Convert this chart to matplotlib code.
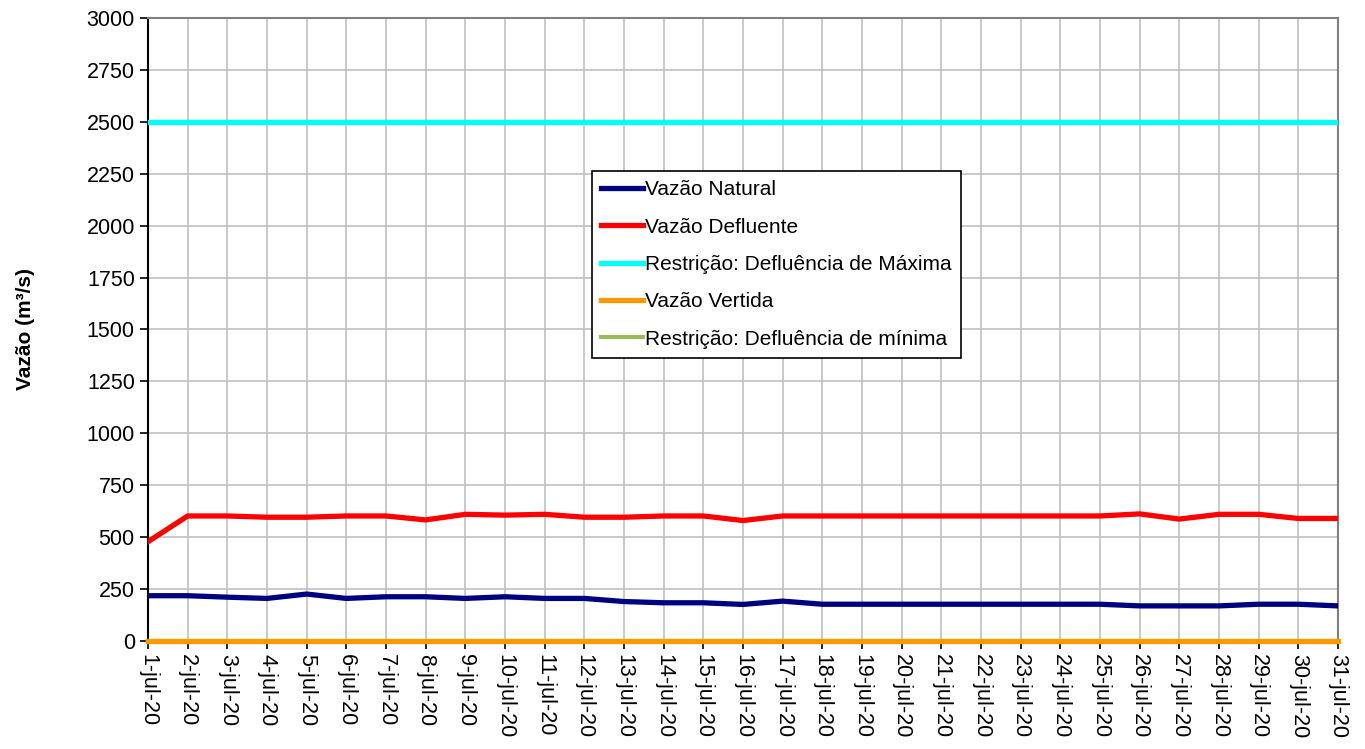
import numpy as np
import matplotlib
matplotlib.use("Agg")
import matplotlib.pyplot as plt

plt.rcParams['font.family'] = ['Liberation Sans', 'DejaVu Sans']

# Dados
dias = [f"{d}-jul-20" for d in range(1, 32)]

vazao_natural = [218, 218, 211, 205, 226, 205, 213, 213, 205, 213,
                 205, 205, 190, 184, 184, 176, 192, 177, 177, 177,
                 177, 177, 177, 177, 177, 169, 169, 169, 177, 177, 169]

vazao_defluente = [478, 602, 602, 596, 596, 602, 602, 583, 610, 606,
                   610, 596, 596, 602, 602, 580, 602, 602, 602, 602,
                   602, 602, 602, 602, 602, 612, 587, 610, 610, 590, 590]

defluencia_maxima = [2500] * 31
vazao_vertida = [0] * 31
defluencia_minima = [0] * 31

x = np.arange(len(dias))

fig = plt.figure(figsize=(13.65, 7.49), dpi=100)
ax = fig.add_axes([0.1084, 0.1442, 0.8718, 0.8318])

l1, = ax.plot(x, vazao_natural, color='#000080', lw=3.8, label='Vazão Natural', zorder=5)
l2, = ax.plot(x, vazao_defluente, color='#ff0000', lw=3.8, label='Vazão Defluente', zorder=5)
l3, = ax.plot(x, defluencia_maxima, color='#00ffff', lw=3.8, label='Restrição: Defluência de Máxima', zorder=5)
l5, = ax.plot(x, defluencia_minima, color='#9bbb59', lw=3.0, label='Restrição: Defluência de mínima',
              zorder=4, clip_on=False)
l4, = ax.plot(x, vazao_vertida, color='#ff9900', lw=3.8, label='Vazão Vertida', zorder=6, clip_on=False)

ax.set_xlim(0, len(dias) - 1)
ax.set_ylim(0, 3000)
ax.set_yticks(np.arange(0, 3001, 250))
ax.set_xticks(x)
ax.set_xticklabels(dias, rotation=270, fontsize=15.5)
ax.tick_params(axis='y', labelsize=15.5)
ax.tick_params(direction='out', length=6, width=1.2, color='black')

ax.grid(True, color='#c0c0c0', lw=1.2)
ax.set_axisbelow(True)

for s in ['top', 'right']:
    ax.spines[s].set_color('#808080')
    ax.spines[s].set_linewidth(1.5)
for s in ['left', 'bottom']:
    ax.spines[s].set_color('black')
    ax.spines[s].set_linewidth(1.5)

ax.set_ylabel('Vazão (m³/s)', fontsize=15, fontweight='bold', labelpad=37)

leg = fig.legend(handles=[l1, l2, l3, l4, l5], loc='upper left',
                 bbox_to_anchor=(592 / 1365, 1 - 171 / 749),
                 fontsize=15, frameon=True, fancybox=False,
                 edgecolor='black', framealpha=1, handlelength=2.0,
                 handletextpad=0.1, borderpad=0.45, labelspacing=0.88,
                 borderaxespad=0)
leg.get_frame().set_linewidth(1.2)

fig.savefig('out.png', dpi=100)
